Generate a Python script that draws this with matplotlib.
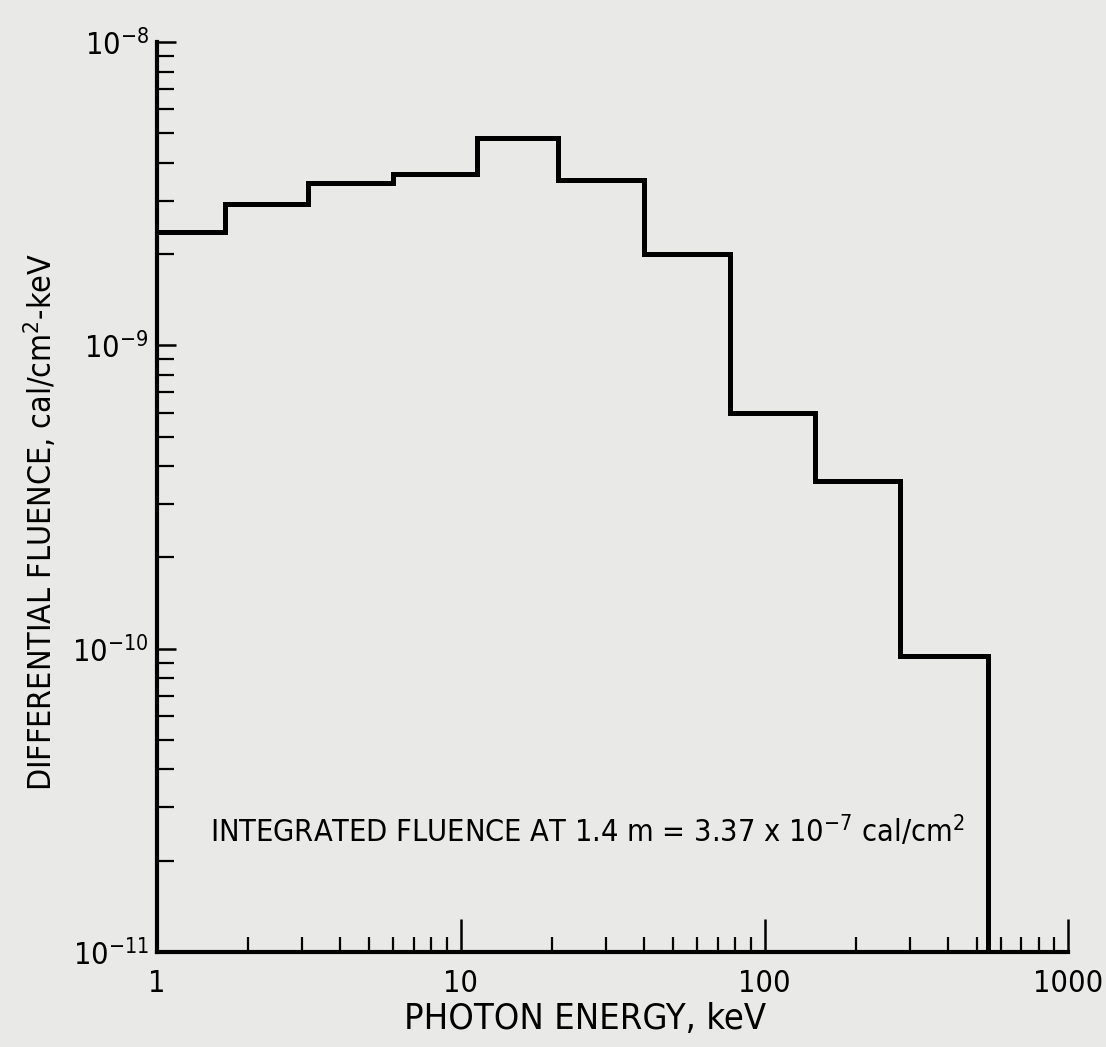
import numpy as np
import matplotlib
matplotlib.use("Agg")
import matplotlib.pyplot as plt
from matplotlib.ticker import FixedLocator, FuncFormatter, LogLocator, NullFormatter

# bin edges (keV) and differential fluence per bin (cal/cm^2-keV)
edges = [1.0, 1.67, 3.14, 6.0, 11.3, 20.9, 40.0, 77.0, 147.0, 280.0, 545.0]
fluence = [2.37e-9, 2.92e-9, 3.43e-9, 3.67e-9, 4.82e-9, 3.51e-9,
           2.01e-9, 6.0e-10, 3.57e-10, 9.46e-11]
x_ticks = [1, 10, 100, 1000]
x_labels = ['1', '10', '100', '1000']
y_ticks = [1e-11, 1e-10, 1e-9, 1e-8]

bg = '#e9e9e7'
plt.rcParams['font.family'] = ['DejaVu Sans']
plt.rcParams['font.stretch'] = 'condensed'
plt.rcParams['mathtext.fontset'] = 'custom'
plt.rcParams['mathtext.rm'] = 'DejaVu Sans:stretch=condensed'
plt.rcParams['mathtext.it'] = 'DejaVu Sans:stretch=condensed'

fig = plt.figure(figsize=(11.06, 10.47), dpi=100, facecolor=bg)
ax = fig.add_axes([0.142, 0.0907, 0.824, 0.869])
ax.set_facecolor(bg)

# step outline, closed to the bottom at the last edge
ax.step(edges, fluence + [fluence[-1]], where='post',
        color='black', lw=3.6, solid_joinstyle='miter')
ax.vlines(edges[-1], 1e-11, fluence[-1], color='black', lw=3.6)

ax.set_xscale('log')
ax.set_yscale('log')
ax.set_xlim(1, 1000)
ax.set_ylim(1e-11, 1e-8)

for s in ['top', 'right']:
    ax.spines[s].set_visible(False)
for s in ['left', 'bottom']:
    ax.spines[s].set_linewidth(3)

ax.xaxis.set_major_locator(FixedLocator(x_ticks))
ax.xaxis.set_major_formatter(FuncFormatter(lambda v, p: x_labels[x_ticks.index(int(round(v)))] if int(round(v)) in x_ticks else ''))
ax.xaxis.set_minor_locator(LogLocator(base=10, subs=np.arange(2, 10)))
ax.xaxis.set_minor_formatter(NullFormatter())
ax.yaxis.set_major_locator(FixedLocator(y_ticks))
ax.yaxis.set_major_formatter(FuncFormatter(lambda v, p: r'$\mathregular{10^{%d}}$' % int(round(np.log10(v)))))
ax.yaxis.set_minor_locator(LogLocator(base=10, subs=np.arange(2, 10)))
ax.yaxis.set_minor_formatter(NullFormatter())

ax.tick_params(axis='x', which='major', direction='in', length=24, width=1.8, labelsize=22, pad=12)
ax.tick_params(axis='x', which='minor', direction='in', length=11, width=1.6)
ax.tick_params(axis='y', which='major', direction='in', length=14, width=1.8, labelsize=22, pad=6)
ax.tick_params(axis='y', which='minor', direction='in', length=12, width=1.6)

ax.set_xlabel('PHOTON ENERGY, keV', fontsize=26)
ax.xaxis.set_label_coords(0.47, -0.055)
ax.set_ylabel(r'DIFFERENTIAL FLUENCE, cal/cm$\mathregular{^2}$-keV', fontsize=23)
ax.yaxis.set_label_coords(-0.108, 0.4725)

ax.text(0.058, 0.12, r'INTEGRATED FLUENCE AT 1.4 m = 3.37 x 10$\mathregular{^{-7}}$ cal/cm$\mathregular{^2}$',
        transform=ax.transAxes, fontsize=22, ha='left', va='baseline')

fig.savefig('out.png', dpi=100, facecolor=bg)
